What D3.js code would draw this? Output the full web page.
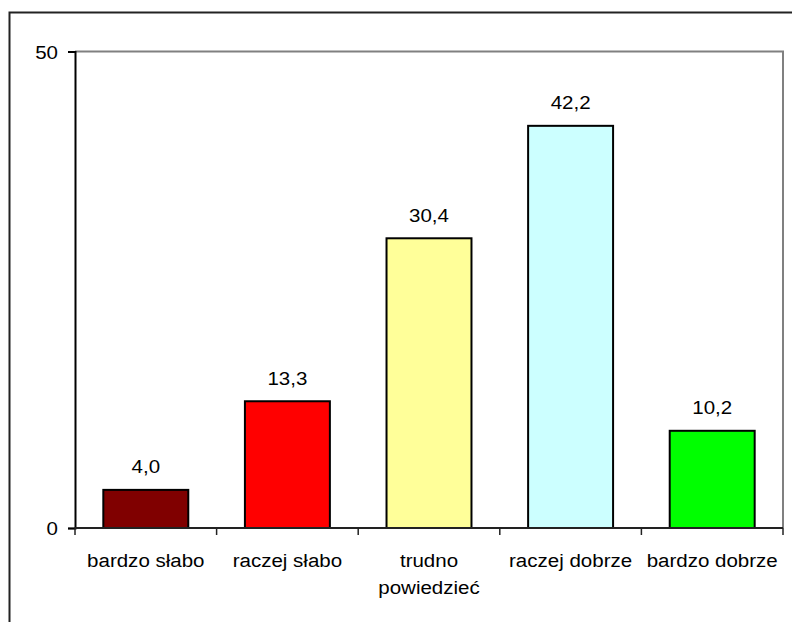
<!DOCTYPE html>
<html lang="pl">
<head>
<meta charset="UTF-8">
<title>Oceny</title>
<script src="https://cdn.jsdelivr.net/npm/d3@7"></script>
<style>
    body { margin: 0; background: white; }
    svg { display: block; }
    text { font-family: "Liberation Sans", Arial, sans-serif; fill: #000; }
</style>
</head>
<body>
<script>
    // ---------- data ----------
    const categories = ["bardzo słabo", "raczej słabo", "trudno powiedzieć", "raczej dobrze", "bardzo dobrze"];
    const labelLines = [["bardzo słabo"], ["raczej słabo"], ["trudno", "powiedzieć"], ["raczej dobrze"], ["bardzo dobrze"]];
    const values = [4.0, 13.3, 30.4, 42.2, 10.2];
    const colors = ["#800000", "#ff0000", "#ffff99", "#ccffff", "#00ff00"];
    const yTicks = [0, 50];

    // ---------- setup ----------
    const W = 792, H = 622;
    const plot = { left: 75, top: 51.5, right: 783, bottom: 528 };
    const fs = 19;
    const stretch = 1.08; // text in the original is a bit wide

    const svg = d3.select("body").append("svg")
        .attr("width", W)
        .attr("height", H);

    // outer chart frame (runs past the window)
    svg.append("rect")
        .attr("x", 9.5).attr("y", 12.5)
        .attr("width", 900).attr("height", 800)
        .attr("fill", "none")
        .attr("stroke", "#222")
        .attr("stroke-width", 2);

    const x = d3.scaleBand()
        .domain(categories)
        .range([plot.left, plot.right])
        .paddingInner(0.4)
        .paddingOuter(0.2);

    const y = d3.scaleLinear()
        .domain([0, 50])
        .range([plot.bottom, plot.top]);

    const fmt = v => d3.format(".1f")(v).replace(".", ",");

    // plot area border (gray, top + right)
    svg.append("path")
        .attr("d", `M${plot.left},${plot.top}H${plot.right}V${plot.bottom}`)
        .attr("fill", "none")
        .attr("stroke", "#808080")
        .attr("stroke-width", 2);

    // bars
    svg.selectAll("rect.bar")
        .data(values)
        .enter()
        .append("rect")
        .attr("class", "bar")
        .attr("x", (d, i) => x(categories[i]))
        .attr("y", d => y(d))
        .attr("width", x.bandwidth())
        .attr("height", d => y(0) - y(d))
        .attr("fill", (d, i) => colors[i])
        .attr("stroke", "#000")
        .attr("stroke-width", 2);

    // value labels
    svg.selectAll("text.val")
        .data(values)
        .enter()
        .append("text")
        .attr("class", "val")
        .attr("text-anchor", "middle")
        .attr("font-size", fs)
        .attr("transform", (d, i) => `translate(${x(categories[i]) + x.bandwidth() / 2},${y(d) - 16.5}) scale(${stretch},1)`)
        .text(d => fmt(d));

    // y axis
    const yAxis = svg.append("g")
        .attr("transform", `translate(${plot.left},0)`)
        .call(d3.axisLeft(y).tickValues(yTicks).tickSize(7).tickPadding(8).tickFormat(d3.format("d")));
    yAxis.select(".domain").attr("stroke", "#000").attr("stroke-width", 2);
    yAxis.selectAll(".tick line").attr("stroke", "#000").attr("stroke-width", 1.5);
    yAxis.selectAll(".tick text")
        .attr("font-size", fs)
        .attr("font-family", "Liberation Sans, Arial, sans-serif")
        .attr("fill", "#000")
        .attr("x", null)
        .attr("dy", null)
        .attr("y", 6.5)
        .attr("transform", `translate(-17,0) scale(${stretch},1)`);

    // x axis line with ticks at category boundaries
    const step = x.step();
    const boundaries = d3.range(categories.length + 1).map(i => plot.left + i * step);
    svg.append("line")
        .attr("x1", plot.left).attr("x2", plot.right)
        .attr("y1", plot.bottom).attr("y2", plot.bottom)
        .attr("stroke", "#222").attr("stroke-width", 2);
    svg.selectAll("line.xtick")
        .data(boundaries)
        .enter()
        .append("line")
        .attr("class", "xtick")
        .attr("x1", d => d).attr("x2", d => d)
        .attr("y1", plot.bottom).attr("y2", plot.bottom + 7)
        .attr("stroke", "#222").attr("stroke-width", 1.5);

    // category labels
    const catG = svg.selectAll("g.cat")
        .data(labelLines)
        .enter()
        .append("g")
        .attr("class", "cat")
        .attr("transform", (d, i) => `translate(${x(categories[i]) + x.bandwidth() / 2},567) scale(${stretch},1)`);
    catG.selectAll("text")
        .data(d => d)
        .enter()
        .append("text")
        .attr("text-anchor", "middle")
        .attr("font-size", fs)
        .attr("y", (d, j) => j * 27)
        .text(d => d);
</script>
</body>
</html>
